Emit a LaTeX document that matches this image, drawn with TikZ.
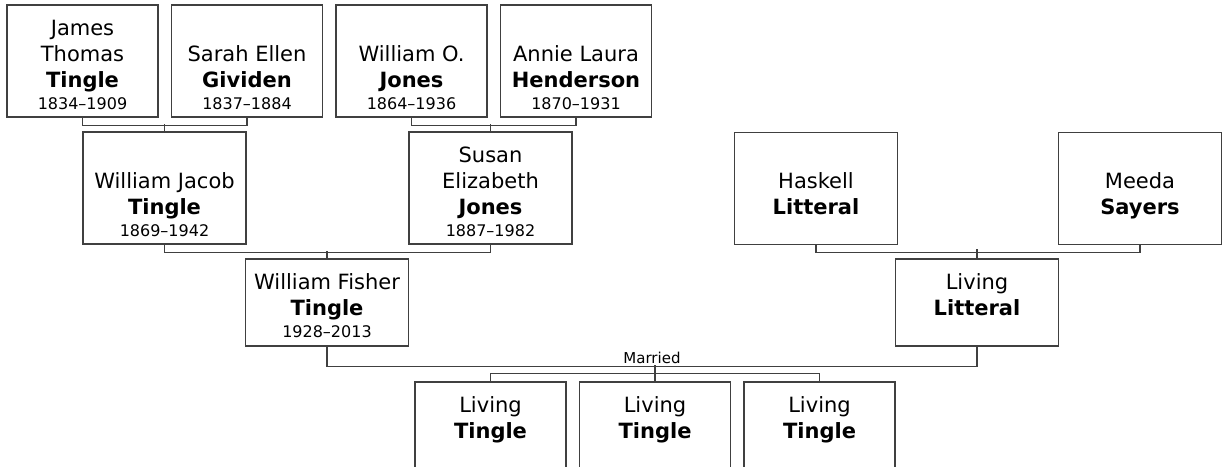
\documentclass[tikz,border=0pt]{standalone}
\usepackage{fontspec}
\setmainfont{DejaVu Sans}
\usepackage{tikz}
\usetikzlibrary{positioning}
\definecolor{linegray}{RGB}{64,64,64}
\tikzset{
  personbox/.style={rectangle,draw=linegray,line width=1.5pt,fill=white,align=center,
    inner sep=0pt,font=\fontsize{21}{26}\selectfont},
  elderbox/.style={personbox,minimum width=151pt,minimum height=112pt},
  parentbox/.style={personbox,minimum width=163pt,minimum height=112pt},
  childbox/.style={personbox,minimum width=163pt,minimum height=87pt},
  kidbox/.style={personbox,minimum width=151pt,minimum height=87pt},
  link/.style={draw=linegray,line width=1.3pt}
}
\newcommand{\topline}{\rule{0pt}{28pt}}
\newcommand{\lifespan}[1]{{\fontsize{16}{20}\selectfont\strut #1}}

\begin{document}
\begin{tikzpicture}[x=1pt,y=-1pt,node distance=12pt]

  \clip (0,0) rectangle (1226,466);

  %% Great-grandparents
  \node[elderbox] (james) at (82.5,61)
    {\topline James\\Thomas\\\textbf{Tingle}\\[-4pt]\lifespan{1834--1909}};
  \node[elderbox,right=of james] (sarah)
    {\topline\\Sarah Ellen\\\textbf{Gividen}\\[-4pt]\lifespan{1837--1884}};
  \node[elderbox,right=of sarah] (wojones)
    {\topline\\William O.\\\textbf{Jones}\\[-4pt]\lifespan{1864--1936}};
  \node[elderbox,right=of wojones] (annie)
    {\topline\\Annie Laura\\\textbf{Henderson}\\[-4pt]\lifespan{1870--1931}};

  %% Grandparents
  \node[parentbox] (wjacob) at (164.5,188)
    {\topline\\William Jacob\\\textbf{Tingle}\\[-4pt]\lifespan{1869--1942}};
  \node[parentbox] (susan) at (490.5,188)
    {\topline Susan\\Elizabeth\\\textbf{Jones}\\[-4pt]\lifespan{1887--1982}};
  \node[parentbox] (haskell) at (816,188.5)
    {\topline\\Haskell\\\textbf{Litteral}\\[-4pt]\lifespan{}};
  \node[parentbox] (meeda) at (1140,188.5)
    {\topline\\Meeda\\\textbf{Sayers}\\[-4pt]\lifespan{}};

  %% Parents
  \node[childbox] (wfisher) at (327,302.5)
    {\topline William Fisher\\\textbf{Tingle}\\[-4pt]\lifespan{1928--2013}};
  \node[childbox] (llitteral) at (977,302.5)
    {\topline Living\\\textbf{Litteral}\\[-4pt]\lifespan{}};

  %% Children
  \node[kidbox] (kid1) at (490.5,425.5)
    {\topline Living\\\textbf{Tingle}\\[-4pt]\lifespan{}};
  \node[kidbox,right=of kid1] (kid2)
    {\topline Living\\\textbf{Tingle}\\[-4pt]\lifespan{}};
  \node[kidbox,right=of kid2] (kid3)
    {\topline Living\\\textbf{Tingle}\\[-4pt]\lifespan{}};

  %% Couples
  \draw[link] (james.south) -- ++(0,8) -| (sarah.south);
  \draw[link] (wjacob.north) -- ++(0,-7);
  \draw[link] (wojones.south) -- ++(0,8) -| (annie.south);
  \draw[link] (susan.north) -- ++(0,-7);
  \draw[link] (wjacob.south) -- ++(0,8) -| (susan.south);
  \draw[link] (wfisher.north) -- ++(0,-7);
  \draw[link] (haskell.south) -- ++(0,7) -| (meeda.south);
  \draw[link] (llitteral.north) -- ++(0,-9);

  %% Marriage and children
  \draw[link] (wfisher.south) -- ++(0,20)
    -| node[pos=0.25,above,font=\fontsize{15}{18}\selectfont,inner sep=2pt]{Married} (llitteral.south);
  \draw[link] (kid1.north) -- ++(0,-8) -| (kid3.north);
  \draw[link] (kid2.north) -- ++(0,-16);

\end{tikzpicture}
\end{document}
